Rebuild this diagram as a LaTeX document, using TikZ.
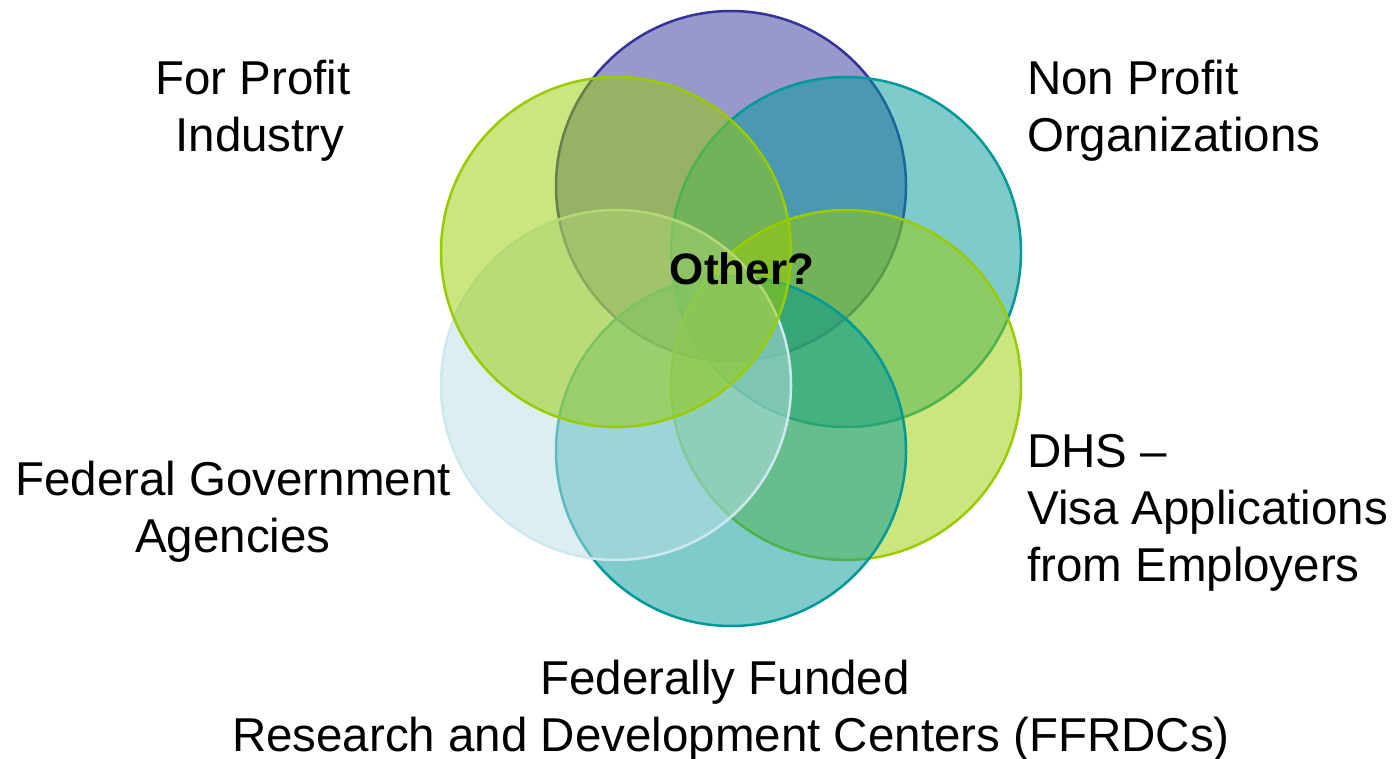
\documentclass[tikz,border=0pt]{standalone}
\usepackage{fontspec}
\setmainfont{Liberation Sans}
\definecolor{cpurple}{RGB}{51,51,153}
\definecolor{cteal}{RGB}{0,153,153}
\definecolor{cgreen}{RGB}{153,204,0}
\definecolor{clblue}{RGB}{186,222,230}
\definecolor{clblueline}{RGB}{205,232,238}
\begin{document}
\begin{tikzpicture}[x=1pt,y=-1pt,
  setcircle/.style={circle,minimum size=350pt,inner sep=0pt,line width=2.5pt,fill opacity=0.5},
  lbl/.style={inner sep=0pt,font=\fontsize{47.5}{57}\selectfont}
]
\useasboundingbox (0,0) rectangle (1397,759);
\fill[white] (0,0) rectangle (1397,759);
\node[setcircle,draw=cpurple,fill=cpurple] (ctop) at (731,186) {};
\node[setcircle,draw=cteal,fill=cteal] (cur) at (846,252) {};
\node[setcircle,draw=cgreen,fill=cgreen] (clr) at (846,385) {};
\node[setcircle,draw=cteal,fill=cteal] (cbot) at (731,451) {};
\node[setcircle,draw=clblueline,fill=clblue] (cll) at (616,385) {};
\node[setcircle,draw=cgreen,fill=cgreen] (cul) at (616,252) {};
\node[inner sep=0pt,anchor=base,font=\fontsize{44}{52}\bfseries] (other) at (742,285) {Other?};
\node[lbl,anchor=base] (fp1) at (253,95) {For Profit};
\node[lbl,anchor=base] (fp2) at (260,152) {Industry};
\node[lbl,anchor=base west] (np1) at (1027,95) {Non Profit};
\node[lbl,anchor=base west] (np2) at (1027,152) {Organizations};
\node[lbl,anchor=base west] (dhs1) at (1027,467) {DHS –};
\node[lbl,anchor=base west] (dhs2) at (1027,524) {Visa Applications};
\node[lbl,anchor=base west] (dhs3) at (1027,581) {from Employers};
\node[lbl,anchor=base] (fg1) at (233,495) {Federal Government};
\node[lbl,anchor=base] (fg2) at (233,552) {Agencies};
\node[lbl,anchor=base] (ff1) at (725,694) {Federally Funded};
\node[lbl,anchor=base] (ff2) at (731,751) {Research and Development Centers (FFRDCs)};
\end{tikzpicture}
\end{document}
